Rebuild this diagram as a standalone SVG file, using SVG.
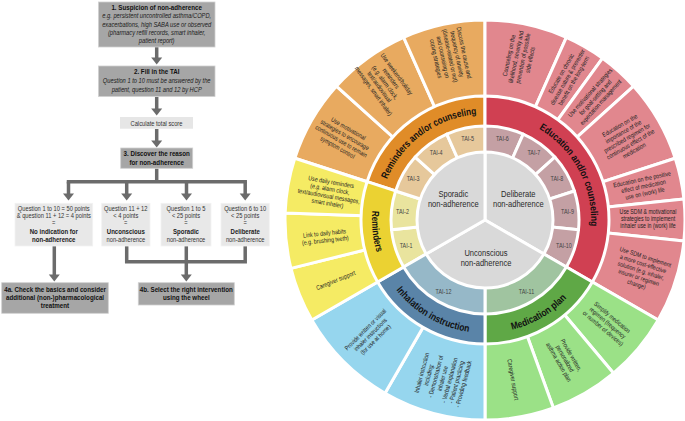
<svg xmlns="http://www.w3.org/2000/svg" width="685" height="421" viewBox="0 0 685 421">
<style>
text{font-family:'Liberation Sans Narrow','Arial Narrow','Liberation Sans',Arial,sans-serif;}
.fb{fill:#a6a6a6;stroke:#d0d0d0;stroke-width:0.8}
.fl{fill:#e8e8e8;stroke:#f2f2f2;stroke-width:0.8}
.ft{font-size:7.6px;font-weight:bold;fill:#111;text-anchor:middle}
.fi{font-size:7px;font-style:italic;fill:#1a1a1a;text-anchor:middle}
.fr{font-size:7px;fill:#333;text-anchor:middle}
.fbb{font-size:7.4px;font-weight:bold;fill:#222;text-anchor:middle}
.conn{stroke:#6b6b6b;stroke-width:3.5;fill:none}
.w{stroke:#fff;stroke-width:3;stroke-linejoin:round}
.c{font-size:6.4px;fill:#222;text-anchor:middle}
.tai{font-size:6.6px;fill:#444;text-anchor:middle}
.sec{font-size:9.2px;fill:#2a2a2a;text-anchor:middle}
.band{font-size:10px;font-weight:bold;fill:#111;text-anchor:middle}
.oo{fill:#e8aa60}.oy{fill:#f5eb64}.ob{fill:#96d6ee}.og{fill:#9be187}.op{fill:#e1878e}
.bo{fill:#e08c28}.by{fill:#ebd232}.bb{fill:#5a84a8}.bg{fill:#5fa846}.br{fill:#d04052}
.to{fill:#e6c89b}.ty{fill:#e9e49e}.tr{fill:#c4a0a4}.tg{fill:#a0c4a0}.tb{fill:#96b8c8}
.in{fill:#d9d9d9}
</style>
<defs>
<marker id="ah" markerUnits="userSpaceOnUse" markerWidth="7" markerHeight="11" refX="0.5" refY="5.5" orient="auto" overflow="visible"><path d="M0,0 L7,5.5 L0,11 Z" fill="#6b6b6b"/></marker>
<path id="pOrange" d="M384.18,187.25 A106,106 0 0 1 485,114"/>
<path id="pRed" d="M485,114 A106,106 0 0 1 572.88,279.27"/>
<path id="pGreen" d="M485,333 A113,113 0 0 0 582.86,276.5"/>
<path id="pBlue" d="M387.14,276.5 A113,113 0 0 0 485,333"/>
<path id="pYellow" d="M377.53,185.08 A113,113 0 0 0 387.14,276.5"/>
</defs>

<!-- Flowchart connectors -->
<g id="connectors">
<path class="conn" d="M156.7,47 V58" marker-end="url(#ah)"/>
<path class="conn" d="M156.7,97 V109" marker-end="url(#ah)"/>
<path class="conn" d="M156.7,129 V141" marker-end="url(#ah)"/>
<path class="conn" d="M156.7,168.5 V181.7"/>
<path class="conn" d="M68.5,181.7 H245.2" stroke-linecap="square"/>
<path class="conn" d="M68.5,181.7 V194" marker-end="url(#ah)"/>
<path class="conn" d="M126.7,181.7 V194" marker-end="url(#ah)"/>
<path class="conn" d="M186.5,181.7 V194" marker-end="url(#ah)"/>
<path class="conn" d="M245.2,181.7 V194" marker-end="url(#ah)"/>
<path class="conn" d="M54.3,246 V275" marker-end="url(#ah)"/>
<path class="conn" d="M126.7,246 V261.7 H245.2 V246"/>
<path class="conn" d="M186.3,246 V275" marker-end="url(#ah)"/>
</g>

<g id="step1">
<rect class="fb" x="98.5" y="2" width="116.5" height="45"/>
<g transform="matrix(0.82 0 0 1 28.206 0)">
<text class="ft" x="156.7" y="10" font-size="8">1. Suspicion of non-adherence</text>
<text class="fi" x="156.7" y="18.4">e.g. persistent uncontrolled asthma/COPD,</text>
<text class="fi" x="156.7" y="26.6">exacerbations, high SABA use or observed</text>
<text class="fi" x="156.7" y="34.9">(pharmacy refill records, smart inhaler,</text>
<text class="fi" x="156.7" y="43.2">patient report)</text>
</g>
</g>
<g id="step2">
<rect class="fb" x="98.5" y="66" width="116.5" height="30.5"/>
<g transform="matrix(0.82 0 0 1 28.206 0)">
<text class="ft" x="156.7" y="73.8">2. Fill in the TAI</text>
<text class="fi" x="156.7" y="83">Question 1 to 10 must be answered by the</text>
<text class="fi" x="156.7" y="91.6">patient, question 11 and 12 by HCP</text>
</g>
</g>
<g id="calc">
<rect x="120" y="117" width="73" height="11.7" fill="#e6e6e6"/>
<g transform="matrix(0.82 0 0 1 28.17 0)">
<text class="fr" x="156.5" y="125.6" font-size="8">Calculate total score</text>
</g>
</g>
<g id="step3">
<rect class="fb" x="120.7" y="148" width="72" height="20.3"/>
<g transform="matrix(0.82 0 0 1 28.206 0)">
<text class="ft" x="156.7" y="156">3. Discover the reason</text>
<text class="ft" x="156.7" y="164.8">for non-adherence</text>
</g>
</g>
<g id="boxA">
<rect class="fl" x="15" y="203.3" width="77.7" height="42.7"/>
<g transform="matrix(0.82 0 0 1 9.684 0)">
<text class="fr" x="53.8" y="210.6">Question 1 to 10 = 50 points</text>
<text class="fr" x="53.8" y="218.3">&amp; question 11 + 12 = 4 points</text>
<text class="fr" x="53.8" y="224.8">=</text>
<text class="fbb" x="53.8" y="233.6">No indication for</text>
<text class="fbb" x="53.8" y="241.9">non-adherence</text>
</g>
</g>
<g id="boxB">
<rect class="fl" x="101.7" y="203.3" width="48.3" height="42.7"/>
<g transform="matrix(0.82 0 0 1 22.644 0)">
<text class="fr" x="125.8" y="210.6">Question 11 + 12</text>
<text class="fr" x="125.8" y="218">&lt; 4 points</text>
<text class="fr" x="125.8" y="224.6">=</text>
<text class="fbb" x="125.8" y="234">Unconscious</text>
<text class="fr" x="125.8" y="242.4">non-adherence</text>
</g>
</g>
<g id="boxC">
<rect class="fl" x="161" y="203.3" width="50" height="42.7"/>
<g transform="matrix(0.82 0 0 1 33.48 0)">
<text class="fr" x="186" y="210.6">Question 1 to 5</text>
<text class="fr" x="186" y="218">&lt; 25 points</text>
<text class="fr" x="186" y="224.6">=</text>
<text class="fbb" x="186" y="234">Sporadic</text>
<text class="fr" x="186" y="242.4">non-adherence</text>
</g>
</g>
<g id="boxD">
<rect class="fl" x="221" y="203.3" width="48.3" height="42.7"/>
<g transform="matrix(0.82 0 0 1 44.136 0)">
<text class="fr" x="245.2" y="210.6">Question 6 to 10</text>
<text class="fr" x="245.2" y="218">&lt; 25 points</text>
<text class="fr" x="245.2" y="224.6">=</text>
<text class="fbb" x="245.2" y="234">Deliberate</text>
<text class="fr" x="245.2" y="242.4">non-adherence</text>
</g>
</g>
<g id="step4a">
<rect class="fb" x="1.7" y="282.7" width="106.6" height="30.6"/>
<g transform="matrix(0.82 0 0 1 9.9 0)">
<text class="ft" x="55" y="291.6">4a. Check the basics and consider</text>
<text class="ft" x="55" y="299.9">additional (non-)pharmacological</text>
<text class="ft" x="55" y="308.4">treatment</text>
</g>
</g>
<g id="step4b">
<rect class="fb" x="138.3" y="282.7" width="96" height="22.3"/>
<g transform="matrix(0.82 0 0 1 33.534 0)">
<text class="ft" x="186.3" y="291.6">4b. Select the right intervention</text>
<text class="ft" x="186.3" y="300.4">using the wheel</text>
</g>
</g>

<!-- Wheel: outer ring -->
<g id="wheel-outer">
<g id="o-motivational"><path class="oo w" d="M485,220 L294.78,158.2 A200,200 0 0 1 336.38,86.18 Z"/>
<text class="c" transform="translate(343,138) rotate(30) scale(0.82,1)"><tspan x="0" y="-8.6">Use motivational</tspan><tspan x="0" y="-1.4">strategies to encourage</tspan><tspan x="0" y="5.8">continuous use to remain</tspan><tspan x="0" y="13">symptom control</tspan></text></g>
<g id="o-weekend"><path class="oo w" d="M485,220 L336.38,86.18 A200,200 0 0 1 403.66,37.3 Z"/>
<text class="c" transform="translate(385.1,82.5) rotate(54) scale(0.82,1)"><tspan x="0" y="-12.2">Use weekend/holiday</tspan><tspan x="0" y="-5">reminders</tspan><tspan x="0" y="2.2">(e.g. alarm clock,</tspan><tspan x="0" y="9.4">text/audiovisual</tspan><tspan x="0" y="16.6">messages, smart inhaler)</tspan></text></g>
<g id="o-anxiety"><path class="oo w" d="M485,220 L403.66,37.3 A200,200 0 0 1 485,20 Z"/>
<text class="c" transform="translate(450.1,55.7) rotate(78) scale(0.82,1)"><tspan x="0" y="-12.2">Discuss the cause and</tspan><tspan x="0" y="-5">frequency of anxiety</tspan><tspan x="0" y="2.2">(disease-related or not)</tspan><tspan x="0" y="9.4">and counseling on</tspan><tspan x="0" y="16.6">coping strategies</tspan></text></g>
<g id="o-sideeffects"><path class="op w" d="M485,220 L485,20 A200,200 0 0 1 566.34,37.3 Z"/>
<text class="c" transform="translate(519.5,57.6) rotate(-78) scale(0.82,1)"><tspan x="0" y="-8.6">Counseling on the</tspan><tspan x="0" y="-1.4">likelihood, severity and</tspan><tspan x="0" y="5.8">prevention of possible</tspan><tspan x="0" y="13">side effects</tspan></text></g>
<g id="o-chronic"><path class="op w" d="M485,220 L566.34,37.3 A200,200 0 0 1 602.56,58.2 Z"/>
<text class="c" transform="translate(567.5,77.1) rotate(-60) scale(0.82,1)"><tspan x="0" y="-5">Educate on chronic</tspan><tspan x="0" y="2.2">disease nature &amp; preventer</tspan><tspan x="0" y="9.4">benefit on the long-term</tspan></text></g>
<g id="o-goal"><path class="op w" d="M485,220 L602.56,58.2 A200,200 0 0 1 633.62,86.18 Z"/>
<text class="c" transform="translate(595.4,97.4) rotate(-48) scale(0.82,1)"><tspan x="0" y="-5">Use motivational strategies</tspan><tspan x="0" y="2.2">for goal-setting and</tspan><tspan x="0" y="9.4">expectation management</tspan></text></g>
<g id="o-regimen"><path class="op w" d="M485,220 L633.62,86.18 A200,200 0 0 1 675.22,158.2 Z"/>
<text class="c" transform="translate(627,138) rotate(-30) scale(0.82,1)"><tspan x="0" y="-12.2">Education on the</tspan><tspan x="0" y="-5">importance of the</tspan><tspan x="0" y="2.2">prescribed regimen for</tspan><tspan x="0" y="9.4">continuous effect of the</tspan><tspan x="0" y="16.6">medication</tspan></text></g>
<g id="o-positive"><path class="op w" d="M485,220 L675.22,158.2 A200,200 0 0 1 683.9,199.1 Z"/>
<text class="c" transform="translate(643.5,186.3) rotate(-12) scale(0.82,1)"><tspan x="0" y="-5">Education on the positive</tspan><tspan x="0" y="2.2">effect of medication</tspan><tspan x="0" y="9.4">use on (work) life</tspan></text></g>
<g id="o-sdm1"><path class="op w" d="M485,220 L683.9,199.1 A200,200 0 0 1 683.9,240.9 Z"/>
<text class="c" transform="translate(648,218.5) scale(0.82,1)"><tspan x="0" y="-5">Use SDM &amp; motivational</tspan><tspan x="0" y="2.2">strategies to implement</tspan><tspan x="0" y="9.4">inhaler use in (work) life</tspan></text></g>
<g id="o-sdm2"><path class="op w" d="M485,220 L683.9,240.9 A200,200 0 0 1 658.2,320 Z"/>
<text class="c" transform="translate(641,270.7) rotate(18) scale(0.82,1)"><tspan x="0" y="-12.2">Use SDM to implement</tspan><tspan x="0" y="-5">a more cost-effective</tspan><tspan x="0" y="2.2">solution (e.g. inhaler,</tspan><tspan x="0" y="9.4">insurer or regimen</tspan><tspan x="0" y="16.6">change)</tspan></text></g>
<g id="o-simplify"><path class="og w" d="M485,220 L658.2,320 A200,200 0 0 1 613.56,373.2 Z"/>
<text class="c" transform="translate(607.6,322.8) rotate(40) scale(0.82,1)"><tspan x="0" y="-5">Simplify medication</tspan><tspan x="0" y="2.2">regimen (frequency</tspan><tspan x="0" y="9.4">or number of devices)</tspan></text></g>
<g id="o-actionplan"><path class="og w" d="M485,220 L613.56,373.2 A200,200 0 0 1 553.4,407.94 Z"/>
<text class="c" transform="translate(565,358.6) rotate(60) scale(0.82,1)"><tspan x="0" y="-5">Provide written,</tspan><tspan x="0" y="2.2">personalized</tspan><tspan x="0" y="9.4">asthma action plan</tspan></text></g>
<g id="o-caregiver2"><path class="og w" d="M485,220 L553.4,407.94 A200,200 0 0 1 485,420 Z"/>
<text class="c" transform="translate(513.1,379.5) rotate(80) scale(0.82,1)"><tspan x="0" y="2.2">Caregiver support</tspan></text></g>
<g id="o-instruction"><path class="ob w" d="M485,220 L485,420 A200,200 0 0 1 385,393.2 Z"/>
<text class="c" transform="translate(442.6,378.4) rotate(-75) scale(0.82,1)"><tspan x="0" y="-19.4">Inhaler instruction</tspan><tspan x="0" y="-12.2">including:</tspan><tspan x="0" y="-5">- Demonstration of</tspan><tspan x="0" y="2.2">inhaler use</tspan><tspan x="0" y="9.4">- Verbal explanation</tspan><tspan x="0" y="16.6">- Patient practicing</tspan><tspan x="0" y="23.8">- Providing feedback</tspan></text></g>
<g id="o-written"><path class="ob w" d="M485,220 L385,393.2 A200,200 0 0 1 311.8,320 Z"/>
<text class="c" transform="translate(370.4,334.6) rotate(-45) scale(0.82,1)"><tspan x="0" y="-5">Provide written or visual</tspan><tspan x="0" y="2.2">inhaler instructions</tspan><tspan x="0" y="9.4">(for use at home)</tspan></text></g>
<g id="o-caregiver1"><path class="oy w" d="M485,220 L311.8,320 A200,200 0 0 1 290.94,268.38 Z"/>
<text class="c" transform="translate(335.7,280.3) rotate(-22) scale(0.82,1)"><tspan x="0" y="2.2">Caregiver support</tspan></text></g>
<g id="o-habits"><path class="oy w" d="M485,220 L290.94,268.38 A200,200 0 0 1 285.12,213.02 Z"/>
<text class="c" transform="translate(324.9,236.8) rotate(-6) scale(0.82,1)"><tspan x="0" y="-1.4">Link to daily habits</tspan><tspan x="0" y="5.8">(e.g. brushing teeth)</tspan></text></g>
<g id="o-daily"><path class="oy w" d="M485,220 L285.12,213.02 A200,200 0 0 1 294.78,158.2 Z"/>
<text class="c" transform="translate(329.4,192.6) rotate(10) scale(0.82,1)"><tspan x="0" y="-8.6">Use daily reminders</tspan><tspan x="0" y="-1.4">(e.g. alarm clock,</tspan><tspan x="0" y="5.8">text/audiovisual messages,</tspan><tspan x="0" y="13">smart inhaler)</tspan></text></g>
</g>

<!-- Wheel: category band -->
<g id="wheel-bands">
<g id="b-reminders-counseling"><path class="bo w" d="M485,220 L367.06,181.68 A124,124 0 0 1 485,96 Z"/></g>
<g id="b-education"><path class="br w" d="M485,220 L485,96 A124,124 0 0 1 592.38,282 Z"/></g>
<g id="b-medication"><path class="bg w" d="M485,220 L592.38,282 A124,124 0 0 1 485,344 Z"/></g>
<g id="b-inhalation"><path class="bb w" d="M485,220 L485,344 A124,124 0 0 1 377.62,282 Z"/></g>
<g id="b-reminders"><path class="by w" d="M485,220 L377.62,282 A124,124 0 0 1 367.06,181.68 Z"/></g>
</g>

<!-- Wheel: TAI ring -->
<g id="wheel-tai">
<g id="tai1"><path class="ty w" d="M485,220 L403.6,267 A94,94 0 0 1 391.52,229.82 Z"/><text class="tai" transform="translate(406.1,247.9) scale(0.82,1)">TAI-1</text></g>
<g id="tai2"><path class="ty w" d="M485,220 L391.52,229.82 A94,94 0 0 1 395.6,190.95 Z"/><text class="tai" transform="translate(402.5,213.6) scale(0.82,1)">TAI-2</text></g>
<g id="tai3"><path class="to w" d="M485,220 L395.6,190.95 A94,94 0 0 1 415.15,157.1 Z"/><text class="tai" transform="translate(413.1,180.8) scale(0.82,1)">TAI-3</text></g>
<g id="tai4"><path class="to w" d="M485,220 L415.15,157.1 A94,94 0 0 1 446.77,134.13 Z"/><text class="tai" transform="translate(436.2,155.2) scale(0.82,1)">TAI-4</text></g>
<g id="tai5"><path class="to w" d="M485,220 L446.77,134.13 A94,94 0 0 1 485,126 Z"/><text class="tai" transform="translate(467.7,141.1) scale(0.82,1)">TAI-5</text></g>
<g id="tai6"><path class="tr w" d="M485,220 L485,126 A94,94 0 0 1 523.23,134.13 Z"/><text class="tai" transform="translate(502.3,141.1) scale(0.82,1)">TAI-6</text></g>
<g id="tai7"><path class="tr w" d="M485,220 L523.23,134.13 A94,94 0 0 1 554.85,157.1 Z"/><text class="tai" transform="translate(533.8,155.2) scale(0.82,1)">TAI-7</text></g>
<g id="tai8"><path class="tr w" d="M485,220 L554.85,157.1 A94,94 0 0 1 574.4,190.95 Z"/><text class="tai" transform="translate(556.9,180.8) scale(0.82,1)">TAI-8</text></g>
<g id="tai9"><path class="tr w" d="M485,220 L574.4,190.95 A94,94 0 0 1 578.48,229.82 Z"/><text class="tai" transform="translate(567.5,213.6) scale(0.82,1)">TAI-9</text></g>
<g id="tai10"><path class="tr w" d="M485,220 L578.48,229.82 A94,94 0 0 1 566.4,267 Z"/><text class="tai" transform="translate(563.9,247.9) scale(0.82,1)">TAI-10</text></g>
<g id="tai11"><path class="tg w" d="M485,220 L566.4,267 A94,94 0 0 1 485,314 Z"/><text class="tai" transform="translate(526.5,294.2) scale(0.82,1)">TAI-11</text></g>
<g id="tai12"><path class="tb w" d="M485,220 L485,314 A94,94 0 0 1 403.6,267 Z"/><text class="tai" transform="translate(443.5,294.2) scale(0.82,1)">TAI-12</text></g>
</g>

<!-- Wheel: centre -->
<g id="wheel-centre">
<g id="deliberate"><path class="in w" d="M485,220 L485,152 A68,68 0 0 1 543.89,254 Z"/><g transform="matrix(0.82 0 0 1 93.294 0)"><text class="sec" x="518.3" y="197.5">Deliberate</text><text class="sec" x="518.3" y="207.5">non-adherence</text></g></g>
<g id="unconscious"><path class="in w" d="M485,220 L543.89,254 A68,68 0 0 1 426.11,254 Z"/><g transform="matrix(0.82 0 0 1 87.48 0)"><text class="sec" x="486" y="256.5">Unconscious</text><text class="sec" x="486" y="266.5">non-adherence</text></g></g>
<g id="sporadic"><path class="in w" d="M485,220 L426.11,254 A68,68 0 0 1 485,152 Z"/><g transform="matrix(0.82 0 0 1 81.594 0)"><text class="sec" x="453.3" y="197.5">Sporadic</text><text class="sec" x="453.3" y="207.5">non-adherence</text></g></g>
</g>

<!-- Band labels -->
<g id="band-labels">
<text class="band"><textPath href="#pOrange" startOffset="50%" textLength="116" lengthAdjust="spacingAndGlyphs">Reminders and/or counseling</textPath></text>
<text class="band"><textPath href="#pRed" startOffset="50%" textLength="116" lengthAdjust="spacingAndGlyphs">Education and/or counseling</textPath></text>
<text class="band"><textPath href="#pGreen" startOffset="50%" textLength="64" lengthAdjust="spacingAndGlyphs">Medication plan</textPath></text>
<text class="band"><textPath href="#pBlue" startOffset="50%" textLength="86" lengthAdjust="spacingAndGlyphs">Inhalation instruction</textPath></text>
<text class="band"><textPath href="#pYellow" startOffset="50%" textLength="42" lengthAdjust="spacingAndGlyphs">Reminders</textPath></text>
</g>
</svg>
